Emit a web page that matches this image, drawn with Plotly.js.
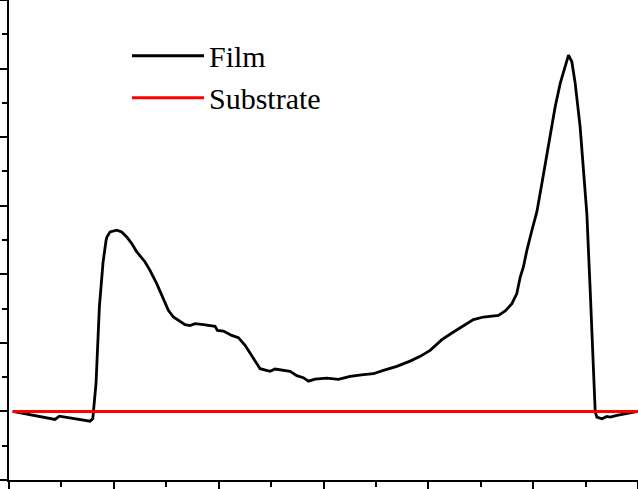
<!DOCTYPE html>
<html>
<head>
<meta charset="utf-8">
<script src="https://cdn.plot.ly/plotly-3.0.1.min.js"></script>
<style>
  html, body { margin: 0; padding: 0; background: #fff; }
  #chart { width: 638px; height: 489px; }
</style>
</head>
<body>
<div id="chart"></div>
<script>
// Film profile
var filmX = [0.035, 0.439, 0.480, 0.773, 0.799, 0.830, 0.862, 0.885, 0.897, 0.926,
  0.935, 0.964, 1.028, 1.075, 1.123, 1.171, 1.219, 1.298, 1.345, 1.409,
  1.472, 1.520, 1.568, 1.632, 1.679, 1.727, 1.775, 1.854, 1.966, 1.988,
  2.045, 2.125, 2.188, 2.252, 2.316, 2.395, 2.490, 2.538, 2.681, 2.745,
  2.808, 2.856, 2.920, 3.031, 3.142, 3.254, 3.381, 3.476, 3.572, 3.699,
  3.826, 3.922, 4.017, 4.129, 4.240, 4.335, 4.430, 4.526, 4.606, 4.669,
  4.733, 4.797, 4.844, 4.876, 4.907, 4.940, 4.988, 5.035, 5.083, 5.131,
  5.178, 5.210, 5.258, 5.305, 5.337, 5.369, 5.401, 5.448, 5.480, 5.512,
  5.544, 5.570, 5.592, 5.608, 5.656, 5.703, 5.735, 5.799, 5.856, 5.916,
  5.979, 6.000];
var filmY = [0.000, -0.117, -0.069, -0.142, -0.107, 0.404, 1.523, 1.961, 2.175, 2.496,
  2.547, 2.618, 2.642, 2.618, 2.545, 2.448, 2.326, 2.180, 2.058, 1.864,
  1.645, 1.474, 1.377, 1.318, 1.266, 1.251, 1.280, 1.266, 1.241, 1.182,
  1.172, 1.109, 1.076, 0.964, 0.818, 0.623, 0.584, 0.618, 0.584, 0.521,
  0.492, 0.442, 0.472, 0.486, 0.467, 0.511, 0.536, 0.550, 0.599, 0.657,
  0.734, 0.803, 0.891, 1.047, 1.158, 1.245, 1.339, 1.377, 1.387, 1.401,
  1.464, 1.572, 1.718, 1.956, 2.107, 2.350, 2.642, 2.909, 3.324, 3.762,
  4.150, 4.442, 4.784, 5.026, 5.197, 5.099, 4.784, 4.150, 3.470, 2.886,
  1.766, 0.793, -0.010, -0.083, -0.107, -0.073, -0.083, -0.058, -0.044, -0.025,
  -0.010, 0.000];

// Substrate baseline
var substrateX = [0.035, 6.0];
var substrateY = [0, 0];

var traces = [
  {
    x: filmX,
    y: filmY,
    name: 'Film',
    mode: 'lines',
    line: { color: '#000000', width: 2.8 },
    hoverinfo: 'skip'
  },
  {
    x: substrateX,
    y: substrateY,
    name: 'Substrate',
    mode: 'lines',
    line: { color: '#ff0000', width: 3 },
    hoverinfo: 'skip'
  }
];

var axisCommon = {
  showgrid: false,
  zeroline: false,
  showline: true,
  linecolor: '#000',
  linewidth: 2,
  mirror: true,
  ticks: 'outside',
  ticklen: 9,
  tickwidth: 2,
  tickcolor: '#000',
  showticklabels: false,
  dtick: 1,
  fixedrange: true
};

var layout = {
  width: 638,
  height: 489,
  margin: { l: 9, r: 0, t: 0, b: 9, pad: 0 },
  paper_bgcolor: '#fff',
  plot_bgcolor: '#fff',
  showlegend: true,
  legend: {
    x: 0.1876,
    y: 0.938,
    xanchor: 'left',
    yanchor: 'top',
    bgcolor: 'rgba(0,0,0,0)',
    borderwidth: 0,
    itemwidth: 72,
    font: { family: 'Times New Roman, Liberation Serif, serif', size: 30, color: '#000' }
  },
  xaxis: Object.assign({}, axisCommon, {
    range: [0, 6],
    tick0: 0,
    minor: { dtick: 0.5, ticks: 'outside', ticklen: 5, tickwidth: 2, tickcolor: '#000', showgrid: false }
  }),
  yaxis: Object.assign({}, axisCommon, {
    range: [-1, 6],
    tick0: 0,
    minor: { dtick: 0.5, ticks: 'outside', ticklen: 5, tickwidth: 2, tickcolor: '#000', showgrid: false }
  })
};

Plotly.newPlot('chart', traces, layout, { displayModeBar: false, staticPlot: true });
</script>
</body>
</html>
